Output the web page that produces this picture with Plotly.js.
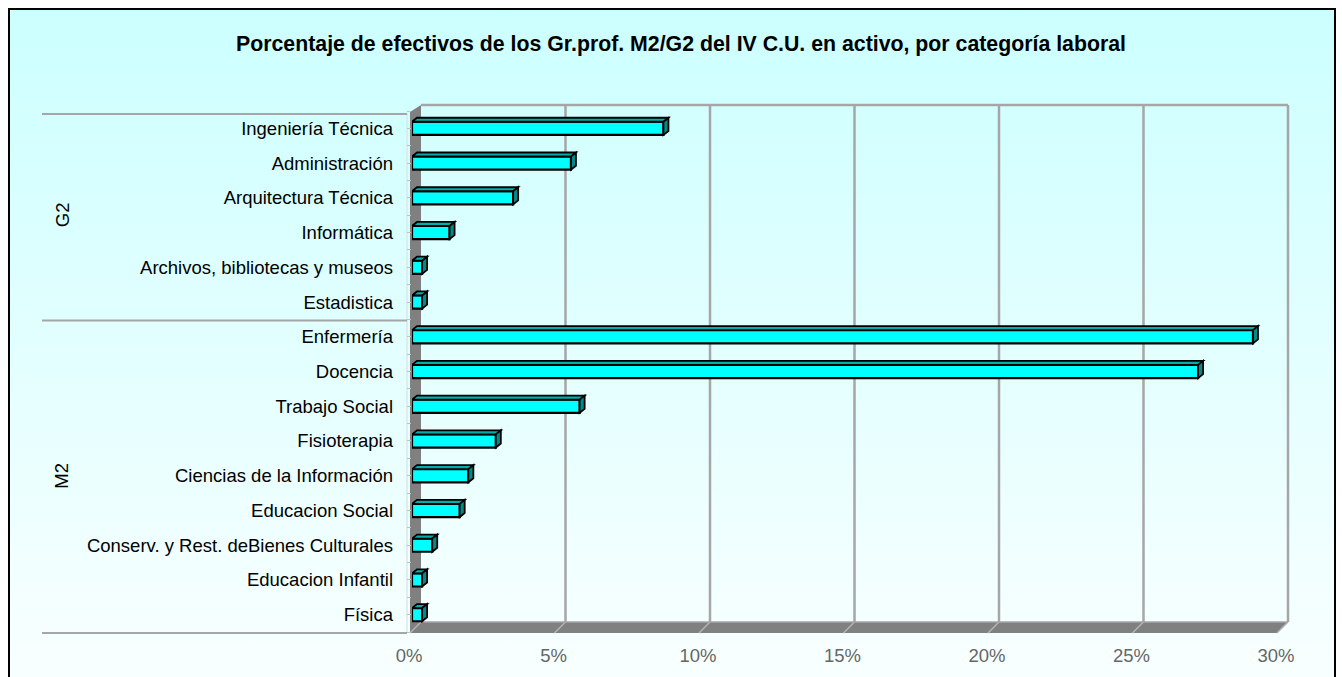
<!DOCTYPE html>
<html><head><meta charset="utf-8">
<script src="https://cdn.plot.ly/plotly-3.0.1.min.js"></script>
<style>
html,body{margin:0;padding:0;width:1342px;height:677px;overflow:hidden;background:#ffffff;}
#frame{position:absolute;left:8px;top:8px;width:1324px;height:700px;border:2px solid #000;background:linear-gradient(to bottom,#CCFFFF 0%,#F9FFFF 96%);}
#chart{position:absolute;left:0;top:0;width:1342px;height:677px;}
</style></head><body>
<div id="frame"></div><div id="chart"></div>
<script>
// ---- data ----
const categories = ['Ingeniería Técnica','Administración','Arquitectura Técnica','Informática','Archivos, bibliotecas y museos','Estadistica','Enfermería','Docencia','Trabajo Social','Fisioterapia','Ciencias de la Información','Educacion Social','Conserv. y Rest. deBienes Culturales','Educacion Infantil','Física'];
const values = [8.7, 5.5, 3.5, 1.3, 0.35, 0.35, 29.1, 27.2, 5.8, 2.9, 1.95, 1.65, 0.7, 0.35, 0.35];
const groupNames = ['G2','M2'];
const groupSizes = [6, 9];
const xTickVals = [0,5,10,15,20,25,30];
const xTickText = ['0%','5%','10%','15%','20%','25%','30%'];
const titleText = 'Porcentaje de efectivos de los Gr.prof. M2/G2 del IV C.U. en activo, por categoría laboral';

// ---- geometry ----
const FW = 1342, FH = 677;
const M = {l:412, r:63, t:111, b:45};
const PW = FW - M.l - M.r, PH = FH - M.t - M.b;
const XMAX = 30, N = categories.length;
const px = v => M.l + v*PW/XMAX;
const xp = p => (p - M.l)/PW;
const yp = p => (FH - M.b - p)/PH;
const FONT = 'Liberation Sans, Arial, sans-serif';
const FS = 18.5;
const GRID = '#A6A6A6', WALL = '#808080';

const idx = categories.map((c,i)=>i);
const shapes = [];
// 3D box
const backTop = M.t - 6, backBottom = FH - M.b - 10, frontBottom = FH - M.b + 1;
const bx = v => px(v) + 9, fx = v => px(v) - 2;
function paperPath(pts){ return 'M ' + pts.map(p=>xp(p[0]).toFixed(5)+','+yp(p[1]).toFixed(5)).join(' L ') + ' Z'; }
// left wall
shapes.push({type:'path', xref:'paper', yref:'paper', layer:'below', path: paperPath([[fx(0), M.t+1],[bx(0), backTop],[bx(0), backBottom],[fx(0), frontBottom]]), fillcolor:WALL, line:{width:0}});
// floor
shapes.push({type:'path', xref:'paper', yref:'paper', layer:'below', path: paperPath([[fx(0), frontBottom],[bx(0), backBottom],[bx(XMAX), backBottom],[fx(XMAX), frontBottom]]), fillcolor:WALL, line:{width:0}});
// back wall gridlines and floor lines
xTickVals.forEach(v=>{
  if (v > 0) shapes.push({type:'line', xref:'paper', yref:'paper', layer:'below', x0:xp(bx(v)), x1:xp(bx(v)), y0:yp(backTop), y1:yp(backBottom), line:{color:GRID, width:2.5}});
  shapes.push({type:'line', xref:'paper', yref:'paper', layer:'below', x0:xp(bx(v)), x1:xp(fx(v)), y0:yp(backBottom), y1:yp(frontBottom), line:{color:'#B4B4B4', width:1.5}});
});
shapes.push({type:'line', xref:'paper', yref:'paper', layer:'below', x0:xp(bx(0)), x1:xp(bx(XMAX)), y0:yp(backTop), y1:yp(backTop), line:{color:GRID, width:2.5}});
shapes.push({type:'line', xref:'paper', yref:'paper', layer:'below', x0:xp(bx(0)), x1:xp(bx(XMAX)), y0:yp(backBottom), y1:yp(backBottom), line:{color:GRID, width:1.5}});
// category axis line
shapes.push({type:'line', xref:'paper', yref:'paper', layer:'below', x0:xp(407), x1:xp(407), y0:yp(M.t+2), y1:yp(FH-M.b), line:{color:'#D8E8E8', width:1.5}});
// group separators
let start = 0;
const bounds = [-0.5];
groupSizes.forEach(s=>{ start += s; bounds.push(start-0.5); });
bounds.forEach(b=>{
  const yy = M.t + (b+0.5)*PH/N + (b < 0 ? 3 : 1);
  shapes.push({type:'line', xref:'paper', yref:'paper', layer:'below', x0:xp(42), x1:xp(407), y0:yp(yy), y1:yp(yy), line:{color:GRID, width:2}});
});
// 3D bar faces
const half = 0.19;
const dxD = 5*XMAX/PW, dyD = 4*N/PH;
values.forEach((v,i)=>{
  const yt = i - half, yb = i + half;
  shapes.push({type:'path', xref:'x', yref:'y', layer:'above', fillcolor:'#00AEAE', line:{color:'#000', width:1.8},
    path:`M 0,${yt} L ${v},${yt} L ${v+dxD},${yt-dyD} L ${dxD},${yt-dyD} Z`});
  shapes.push({type:'path', xref:'x', yref:'y', layer:'above', fillcolor:'#008A8A', line:{color:'#000', width:1.8},
    path:`M ${v},${yt} L ${v+dxD},${yt-dyD} L ${v+dxD},${yb-dyD} L ${v},${yb} Z`});
});

// group labels
const annotations = [];
start = 0;
groupNames.forEach((g,k)=>{
  const mid = start + (groupSizes[k]-1)/2; start += groupSizes[k];
  annotations.push({text:g, xref:'paper', yref:'y', x:xp(62), y:mid, showarrow:false, textangle:-90, font:{family:FONT, size:FS, color:'#000'}, xanchor:'center', yanchor:'middle'});
});

const trace = {type:'bar', orientation:'h', x:values, y:idx, width:0.38,
  marker:{color:'#00FFFF', line:{color:'#000', width:2.2}}, hoverinfo:'skip'};

const layout = {
  width:FW, height:FH, margin:M, showlegend:false,
  paper_bgcolor:'rgba(0,0,0,0)', plot_bgcolor:'rgba(0,0,0,0)',
  title:{text:'<b>'+titleText+'</b>', xref:'container', x:681/FW, xanchor:'center', yref:'container', y:1-44/FH, yanchor:'middle', font:{family:FONT, size:21.3, color:'#000'}},
  xaxis:{range:[0,XMAX], tickvals:xTickVals, ticktext:xTickText, showgrid:false, zeroline:false, showline:false, ticks:'', ticklabelstandoff:10, ticklabelshift:-3, tickfont:{family:FONT, size:FS, color:'#666666'}, fixedrange:true},
  yaxis:{range:[N-0.5,-0.5], tickvals:idx, ticktext:categories, showgrid:false, zeroline:false, showline:false, ticks:'', ticklabelstandoff:18, tickfont:{family:FONT, size:FS, color:'#000'},
    minor:{tickmode:'linear', tick0:-0.5, dtick:0.5, ticks:'outside', ticklen:4, tickcolor:'#B8C8C8', tickwidth:1, showgrid:false}, fixedrange:true},
  shapes:shapes, annotations:annotations
};
Plotly.newPlot('chart', [trace], layout, {displayModeBar:false, staticPlot:true});
</script>
</body></html>
